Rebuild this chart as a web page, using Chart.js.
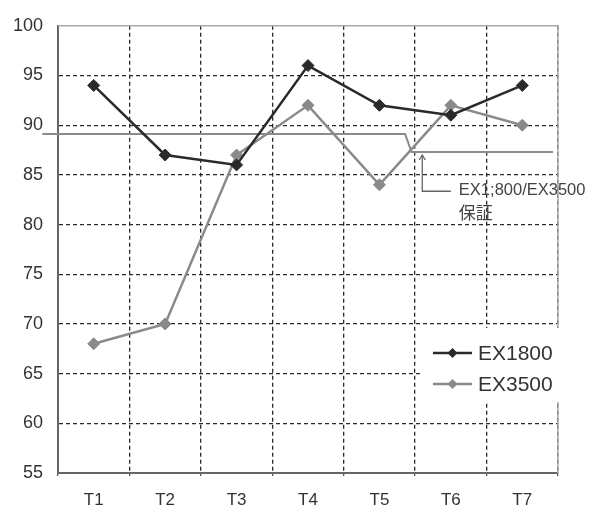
<!DOCTYPE html>
<html>
<head>
<meta charset="utf-8">
<script src="https://cdn.jsdelivr.net/npm/chart.js@4/dist/chart.umd.min.js"></script>
<style>
  html, body { margin: 0; padding: 0; background: #fff; }
  canvas { display: block; }
</style>
</head>
<body>
<canvas id="c" width="602" height="509"></canvas>
<script>
// Categories and series
const categories = ['T1', 'T2', 'T3', 'T4', 'T5', 'T6', 'T7'];
const ex1800 = [94, 87, 86, 96, 92, 91, 94];
const ex3500 = [68, 70, 87, 92, 84, 92, 90];
const yTicks = [55, 60, 65, 70, 75, 80, 85, 90, 95, 100];

// Guaranteed level (step line), x in category-index units
const guaranteeX = [-0.72, 4.36, 4.45, 6.43];
const guaranteeY = [89.1, 89.1, 87.3, 87.3];

// Callout arrow pointing at the guaranteed level
const calloutX = [4.60, 4.60, 5.00];
const calloutY = [87.0, 83.35, 83.35];
const calloutText = ['EX1;800/EX3500', '保証'];

const FONT = "'Liberation Sans', Arial, sans-serif";

const toPoints = (xs, ys) => xs.map((x, i) => ({ x, y: ys[i] }));

// Plot frame (top and right edges) drawn under the data
const framePlugin = {
  id: 'frame',
  beforeDatasetsDraw(chart) {
    const { ctx, chartArea: a } = chart;
    ctx.save();
    ctx.strokeStyle = '#aaa';
    ctx.lineWidth = 1.5;
    ctx.beginPath();
    ctx.moveTo(a.left, a.top);
    ctx.lineTo(a.right, a.top);
    ctx.lineTo(a.right, a.bottom);
    ctx.stroke();
    ctx.restore();
  }
};

// Callout arrow head, its text and the legend box
const notesPlugin = {
  id: 'notes',
  afterDatasetsDraw(chart) {
    const { ctx, chartArea: a } = chart;
    const xs = chart.scales.xl, ys = chart.scales.y;
    ctx.save();

    // arrow head
    const tx = xs.getPixelForValue(calloutX[0]);
    const ty = ys.getPixelForValue(calloutY[0]);
    ctx.strokeStyle = '#666';
    ctx.lineWidth = 1.3;
    ctx.beginPath();
    ctx.moveTo(tx - 3, ty + 5);
    ctx.lineTo(tx, ty);
    ctx.lineTo(tx + 3, ty + 5);
    ctx.stroke();

    // callout text
    const ex = xs.getPixelForValue(calloutX[2]);
    const ey = ys.getPixelForValue(calloutY[2]);
    ctx.fillStyle = '#444';
    ctx.font = '16.5px ' + FONT;
    ctx.textAlign = 'left';
    ctx.textBaseline = 'middle';
    ctx.fillText(calloutText[0], ex + 8, ey - 1);
    ctx.font = '17px "Noto Sans CJK JP", ' + FONT;
    ctx.fillText(calloutText[1], ex + 8, ey + 21);

    // legend
    const bx = a.right - 138, by = a.bottom - 145;
    ctx.fillStyle = '#fff';
    ctx.fillRect(bx, by, 160, 74);
    chart.data.datasets.slice(0, 2).forEach((ds, i) => {
      const cy = by + 25 + i * 31;
      const lx = bx + 13;
      ctx.strokeStyle = ds.borderColor;
      ctx.lineWidth = 2.5;
      ctx.beginPath();
      ctx.moveTo(lx, cy);
      ctx.lineTo(lx + 39, cy);
      ctx.stroke();
      ctx.fillStyle = ds.pointBackgroundColor;
      ctx.beginPath();
      ctx.moveTo(lx + 19.5, cy - 5);
      ctx.lineTo(lx + 24.5, cy);
      ctx.lineTo(lx + 19.5, cy + 5);
      ctx.lineTo(lx + 14.5, cy);
      ctx.closePath();
      ctx.fill();
      ctx.fillStyle = '#333';
      ctx.font = '21px ' + FONT;
      ctx.textAlign = 'left';
      ctx.textBaseline = 'middle';
      ctx.fillText(ds.label, lx + 45, cy + 1);
    });
    ctx.restore();
  }
};

new Chart(document.getElementById('c'), {
  type: 'line',
  data: {
    labels: categories,
    datasets: [
      {
        label: 'EX1800',
        data: ex1800,
        xAxisID: 'x',
        borderColor: '#2a2a2a',
        backgroundColor: '#2a2a2a',
        pointBackgroundColor: '#2a2a2a',
        pointBorderColor: '#2a2a2a',
        borderWidth: 2.5,
        pointStyle: 'rectRot',
        pointRadius: 6,
        pointBorderWidth: 1,
        tension: 0,
        order: 1
      },
      {
        label: 'EX3500',
        data: ex3500,
        xAxisID: 'x',
        borderColor: '#8a8a8a',
        backgroundColor: '#8a8a8a',
        pointBackgroundColor: '#8a8a8a',
        pointBorderColor: '#8a8a8a',
        borderWidth: 2.5,
        pointStyle: 'rectRot',
        pointRadius: 6,
        pointBorderWidth: 1,
        tension: 0,
        order: 2
      },
      {
        label: 'guarantee',
        data: toPoints(guaranteeX, guaranteeY),
        xAxisID: 'xl',
        borderColor: '#8c8c8c',
        borderWidth: 2,
        pointRadius: 0,
        tension: 0,
        clip: false,
        order: 3
      },
      {
        label: 'callout',
        data: toPoints(calloutX, calloutY),
        xAxisID: 'xl',
        borderColor: '#666',
        borderWidth: 1.3,
        pointRadius: 0,
        tension: 0,
        clip: false,
        order: 4
      }
    ]
  },
  options: {
    responsive: false,
    animation: false,
    layout: { padding: { top: 19, right: 44, bottom: 0, left: 0 } },
    plugins: {
      legend: { display: false },
      tooltip: { enabled: false }
    },
    scales: {
      x: {
        type: 'category',
        offset: true,
        grid: {
          offset: true,
          color: (ctx) => (ctx.index === 0 || ctx.index === categories.length) ? 'rgba(0,0,0,0)' : '#2a2a2a',
          lineWidth: 1.3,
          tickLength: 3,
          tickColor: '#555'
        },
        border: { color: '#666', width: 2, dash: [4, 3] },
        ticks: {
          color: '#333',
          font: { family: FONT, size: 17 },
          padding: 14,
          maxRotation: 0
        },
        afterFit: (s) => { s.height = 36; }
      },
      xl: {
        type: 'linear',
        display: false,
        min: -0.5,
        max: 6.5
      },
      y: {
        min: 55,
        max: 100,
        afterBuildTicks: (s) => { s.ticks = yTicks.map(v => ({ value: v })); },
        grid: {
          color: (ctx) => (ctx.tick && (ctx.tick.value === 55 || ctx.tick.value === 100)) ? 'rgba(0,0,0,0)' : '#2a2a2a',
          lineWidth: 1.3,
          drawTicks: false
        },
        border: { color: '#666', width: 2, dash: [4, 3] },
        ticks: {
          color: '#333',
          font: { family: FONT, size: 18 },
          padding: 15
        },
        afterFit: (s) => { s.width = 58; }
      }
    }
  },
  plugins: [framePlugin, notesPlugin]
});
</script>
</body>
</html>
